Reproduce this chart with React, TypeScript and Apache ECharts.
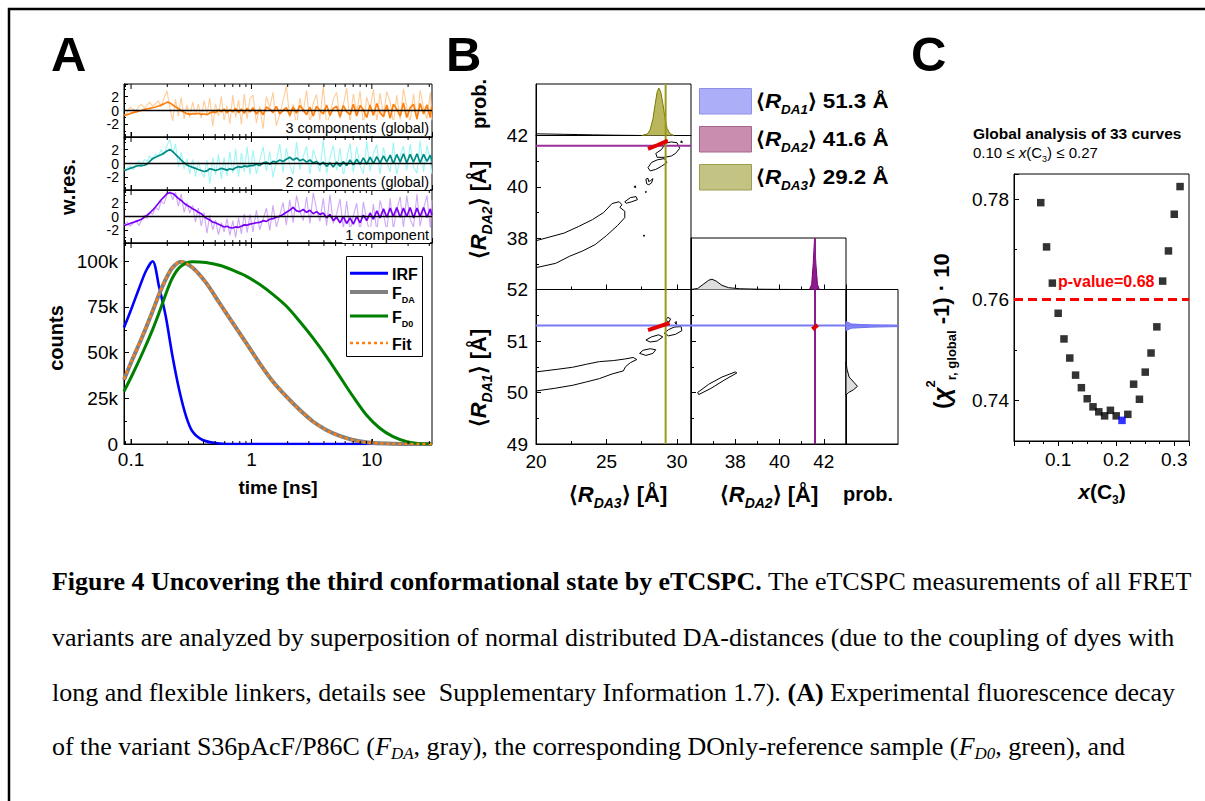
import React, { useEffect, useRef } from 'react';
import * as echarts from 'echarts';

const SANS = '"Liberation Sans", Arial, Helvetica, sans-serif';
const SERIF = '"Liberation Serif", Tinos, "Times New Roman", Times, "Nimbus Roman", serif';

// ---------------- Panel A : weighted residuals ----------------
const resTime = [0.088,0.093,0.098,0.104,0.11,0.116,0.122,0.129,0.136,0.143,
  0.151,0.16,0.169,0.178,0.188,0.199,0.21,0.222,0.234,0.247,
  0.261,0.276,0.291,0.307,0.325,0.343,0.362,0.383,0.404,0.427,
  0.451,0.477,0.503,0.532,0.562,0.593,0.627,0.662,0.7,0.739,
  0.781,0.825,0.872,0.921,0.973,1.03,1.1,1.17,1.25,1.33,
  1.42,1.51,1.61,1.72,1.83,1.95,2.08,2.22,2.37,2.52,
  2.69,2.87,3.06,3.26,3.47,3.7,3.95,4.21,4.49,4.78,
  5.1,5.44,5.8,6.18,6.59,7.02,7.49,7.98,8.51,9.07,
  9.67,10.3,11.0,11.7,12.5,13.3,14.2,15.1,16.1,17.2,
  18.3,19.5,20.8,22.2,23.7,25.2,26.9,28.7,30.6,31.5];

const res3Raw = [-0.7,-0.3,0.5,0.2,-0.1,0.6,0.9,0.3,0.8,1.2,0.6,1.0,1.4,0.5,1.8,2.8,0.4,-1.5,1.6,-0.8,1.9,-1.2,0.8,
  -1.0,1.2,-0.6,0.9,-1.1,1.4,-0.5,1.8,-2.3,1.0,-0.8,2.0,-1.4,0.7,-1.9,2.2,-1.0,1.5,-2.0,2.4,-1.2,1.7,
  2.2,-1.8,0.6,-2.6,2.0,0.4,2.6,-2.2,-0.5,1.4,3.5,-1.0,0.9,-2.4,1.8,-0.3,2.9,-1.9,1.1,2.3,
  -1.3,3.5,-2.0,-0.6,1.6,2.6,-1.2,0.8,3.2,-1.8,2.4,-0.4,2.8,-2.1,1.9,0.2,3.0,-1.6,2.5,-0.8,
  2.7,1.2,-1.9,2.2,-1.3,3.1,0.5,-1.7,2.4,-1.5,2.9,0.3,-1.2,2.6,-1.4];
const res3Smooth = [-0.7,-0.6,-0.45,-0.3,-0.2,-0.1,0.0,0.15,0.25,0.3,0.4,0.5,0.65,0.8,0.95,1.2,1.1,0.8,0.55,0.3,0.0,-0.25,-0.45,
  -0.55,-0.45,-0.5,-0.4,-0.55,-0.5,-0.6,-0.35,-0.2,-0.3,0.1,-0.2,0.2,-0.3,0.1,-0.2,0.3,-0.3,0.2,-0.4,0.3,-0.2,
  0.4,-0.5,0.1,-0.6,0.5,0.2,-0.3,0.6,-0.5,0.0,0.4,-0.7,0.5,-0.4,0.7,0.1,-0.6,0.5,-0.8,0.6,
  0.0,-0.5,0.8,-0.7,0.3,0.6,-0.9,0.7,-0.2,-0.6,0.9,-0.8,0.7,0.1,-1.0,0.8,-0.7,1.0,-0.3,-0.9,
  0.8,-1.1,0.9,0.2,-0.8,1.1,-1.0,0.4,0.9,-1.2,1.0,-0.5,0.8,-1.0,0.6];

const res2Raw = [-1.0,-0.6,-0.3,-0.9,-0.2,0.4,-0.5,0.6,0.3,1.1,0.5,1.4,0.9,2.0,1.2,2.6,3.5,1.5,2.8,-0.5,1.6,-0.8,0.7,
  -1.5,0.6,-1.9,0.3,-1.2,-2.0,0.5,-2.9,0.8,-1.6,1.3,-2.2,0.9,-1.8,1.7,-1.4,2.1,-1.9,1.5,-1.2,2.4,-1.6,
  1.9,-1.5,0.4,2.4,-1.1,1.7,-2.0,0.3,2.8,-1.3,2.2,-0.2,-1.7,3.1,-0.9,1.0,2.5,-1.6,2.0,0.5,
  -1.2,3.4,-1.4,0.8,2.6,-1.0,2.2,-1.8,0.6,2.9,-1.3,2.4,-0.3,-1.5,3.2,-1.1,1.4,2.7,-1.6,2.3,
  0.2,-1.2,3.0,-1.7,1.1,2.5,-1.0,2.8,-0.5,-1.4,3.3,-1.2,2.6,0.4,-1.5];
const res2Smooth = [-1.0,-0.85,-0.7,-0.55,-0.4,-0.3,-0.3,-0.25,-0.1,0.3,0.7,0.9,1.1,1.25,1.5,1.8,2.0,1.7,1.3,0.9,0.5,0.1,-0.2,
  -0.4,-0.55,-0.7,-0.85,-1.0,-1.15,-1.05,-0.75,-0.85,-1.0,-0.85,-0.7,-0.8,-0.95,-0.75,-0.9,-0.6,-0.45,-0.55,-0.35,-0.45,-0.3,
  -0.3,-0.1,-0.3,0.1,0.2,-0.1,0.3,0.2,0.5,0.3,0.6,0.9,0.5,0.8,0.4,0.6,0.2,0.5,0.1,0.3,
  -0.2,0.2,-0.4,0.1,-0.5,0.2,-0.4,0.3,-0.3,0.5,-0.2,0.6,-0.1,0.8,-0.1,0.9,0.0,1.0,0.1,1.1,
  0.2,1.2,0.0,1.3,0.2,1.4,0.1,1.3,0.2,1.4,0.1,1.3,0.3,1.2,0.4];

const res1Raw = [-1.2,-0.8,-1.4,-1.0,-0.5,-1.3,-0.6,0.2,-0.3,0.6,0.3,1.3,0.9,2.2,1.8,3.1,3.6,2.4,3.5,1.5,3.2,0.6,2.0,
  0.5,1.6,-0.8,1.2,-1.4,0.6,-2.4,0.2,-1.9,-0.5,-2.6,-0.9,-2.2,-0.3,-2.7,-0.6,-3.0,-0.2,-2.5,0.4,-2.3,0.3,
  -2.2,0.9,-1.9,-0.4,1.2,-2.0,1.6,-1.5,0.2,2.0,-1.2,2.4,-0.9,3.0,0.8,-0.6,2.8,-1.0,3.4,1.1,
  -0.7,2.6,-1.3,3.1,-1.0,0.4,2.5,-1.8,2.2,-2.1,0.1,1.9,-2.4,2.1,-0.6,-2.3,1.8,-2.2,2.3,0.3,
  -2.0,2.6,-1.8,1.0,2.8,-1.6,3.0,-0.4,-1.5,3.2,-1.4,1.2,3.0,-1.6,2.4];
const res1Smooth = [-1.3,-1.15,-1.0,-0.85,-0.7,-0.55,-0.4,-0.1,0.2,0.5,0.9,1.4,1.9,2.4,2.8,3.3,3.4,3.3,3.0,2.6,2.3,1.9,1.6,
  1.4,1.1,0.9,0.6,0.4,0.0,-0.3,-0.5,-0.8,-0.9,-1.1,-1.3,-1.5,-1.4,-1.6,-1.65,-1.5,-1.55,-1.4,-1.2,-1.25,-1.1,
  -1.0,-0.9,-0.85,-0.6,-0.7,-0.4,-0.3,-0.1,0.05,0.3,0.6,0.9,1.3,0.8,0.7,1.0,0.6,0.9,0.4,0.7,
  0.3,0.5,-0.2,0.3,-0.6,-0.1,-0.9,0.0,-1.0,-0.2,-1.1,0.0,-0.9,0.2,-0.6,0.5,-0.4,0.8,-0.2,1.1,
  -0.1,1.2,0.0,1.3,-0.1,1.2,0.0,1.3,-0.2,1.2,0.0,1.3,-0.1,1.1,0.2];

const resLabels = ['3 components (global)', '2 components (global)', '1 component'];
const logMinorTicks = [0.09,0.2,0.3,0.4,0.5,0.6,0.7,0.8,0.9,2,3,4,5,6,7,8,9,20,30];
const logMajorTicks = [0.1, 1, 10];

// ---------------- Panel A : decays (counts in thousands) ----------------
const irfTime = [0.0874,0.1,0.116,0.133,0.151,0.171,0.194,0.221,0.251,0.287,0.324,0.393,0.54,0.8,2,31.6];
const irfK = [63.7,73.5,84.8,94.7,100,86,70,48,29.7,15,6.8,2.2,0.3,0,0,0];
const decayTime = [0.0874,0.1025,0.1245,0.151,0.171,0.194,0.221,0.259,0.325,0.419,0.541,0.699,0.903,1.166,1.506,1.946,2.51,3.24,4.19,5.41,6.98,9.02,11.66,15.0,19.5,25.1,31.6];
const fdaK = [35.2,46.2,59.0,72.7,81.9,90.1,96.5,99.8,96.5,88.3,77.3,66.3,55.3,44.3,34.2,26.0,18.7,12.3,7.7,4.4,2.2,0.9,0.4,0.1,0.05,0,0];
const fd0K = [28.8,37.9,49.8,62.6,71.8,81.9,91.0,97.3,99.8,99.3,97.8,95.2,91.9,87.4,81.9,75.5,67.2,58.1,48.0,37.0,26.0,15.9,8.6,4.0,1.3,0.2,0];
const fitK = [35.6,46.5,59.2,72.9,82.1,90.3,96.6,99.9,96.4,88.2,77.2,66.2,55.2,44.2,34.1,25.9,18.6,12.2,7.6,4.3,2.1,0.9,0.4,0.1,0.05,0,0];

// ---------------- Panel B ----------------
const meanR1 = 51.3, meanR2 = 41.6, meanR3 = 29.2;
const contR2R3 = [
  [[20,37.9],[21,38.05],[22,38.2],[23,38.45],[24,38.72],[24.8,39.0],[25.4,39.35],[25.9,39.42],[26.1,39.3],[25.95,39.2],[26.3,39.05],[26.3,38.8],[25.8,38.5],[25.0,38.1],[24.2,37.75],[23.3,37.5],[22.4,37.3],[21.4,37.02],[20,36.85]],
  [[26.3,39.42],[26.7,39.58],[27.1,39.62],[27.2,39.5],[26.8,39.42],[26.4,39.36],[26.3,39.42]],
  [[26.95,40.0],[27.05,40.04],[27.08,39.97],[26.95,40.0]],
  [[27.6,38.1],[27.7,38.12],[27.68,38.07],[27.6,38.1]],
  [[27.75,39.8],[27.82,39.83],[27.8,39.77],[27.75,39.8]],
  [[27.8,40.3],[27.85,40.12],[28.0,40.08],[28.2,40.15],[28.3,40.32],[28.15,40.25],[28.0,40.2],[27.95,40.33],[27.8,40.3]],
  [[27.95,40.75],[28.2,40.95],[28.6,41.05],[29.1,41.1],[29.3,40.95],[28.9,40.8],[28.5,40.68],[28.1,40.62],[27.95,40.75]],
  [[28.5,41.3],[28.9,41.45],[29.2,41.7],[29.6,41.75],[30.0,41.72],[30.2,41.5],[29.9,41.3],[29.6,41.2],[29.1,41.15],[28.6,41.15],[28.5,41.3]],
  [[30.25,41.75],[30.35,41.79],[30.38,41.72],[30.25,41.75]]
];
const redR2R3 = [[27.95,41.48],[28.6,41.62],[29.36,41.8]];
const contR1R3 = [
  [[20,50.4],[21.5,50.45],[22.6,50.49],[23.6,50.55],[24.5,50.6],[25.5,50.62],[26.3,50.65],[26.9,50.68],[27.15,50.64],[26.7,50.58],[26.35,50.5],[26.2,50.42],[25.4,50.36],[24.5,50.27],[23.5,50.2],[22.6,50.14],[21.3,50.08],[20,50.03]],
  [[27.35,50.76],[27.6,50.82],[28.1,50.85],[28.5,50.83],[28.3,50.76],[27.8,50.72],[27.35,50.76]],
  [[27.8,51.02],[28.2,51.08],[28.7,51.12],[29.0,51.08],[28.6,51.0],[28.1,50.98],[27.8,51.02]],
  [[29.1,51.15],[29.4,51.22],[29.8,51.27],[30.3,51.28],[30.35,51.2],[29.9,51.13],[29.4,51.1],[29.1,51.15]],
  [[29.2,51.4],[29.35,51.46],[29.55,51.43],[29.45,51.37],[29.2,51.4]],
  [[29.85,51.35],[29.95,51.38],[29.97,51.32],[29.85,51.35]]
];
const redR1R3 = [[27.95,51.21],[28.7,51.28],[29.48,51.35]];
const contR1R2 = [
  [[36.3,50.0],[36.8,50.16],[37.4,50.3],[38.0,50.4],[38.07,50.38],[37.5,50.24],[36.9,50.08],[36.35,49.96],[36.3,50.0]]
];
const redR1R2 = [[41.48,51.23],[41.6,51.27],[41.72,51.31]];
const hist3 = [[27.5,0],[27.9,0.03],[28.1,0.12],[28.3,0.35],[28.45,0.65],[28.6,0.92],[28.72,1.0],[28.85,0.92],[29.0,0.68],[29.15,0.38],[29.3,0.15],[29.5,0.04],[29.8,0]];
const hist3Tail = [[20,0.035],[21,0.03],[22,0.025],[23,0.02],[24,0.014],[25,0.009],[26,0.005],[27,0.002],[27.5,0]];
const hist2Gray = [[36.0,0.0],[36.3,0.02],[36.55,0.1],[36.8,0.18],[36.95,0.2],[37.15,0.16],[37.4,0.08],[37.7,0.035],[38.2,0.015],[39,0.006],[40,0.002],[41,0]];
const hist2Peak = [[41.35,0],[41.45,0.1],[41.52,0.5],[41.58,1.0],[41.64,0.5],[41.71,0.1],[41.8,0]];
const hist1Gray = [[0,49.95],[0.05,50.0],[0.14,50.05],[0.22,50.12],[0.15,50.2],[0.06,50.3],[0.02,50.45],[0,50.6]];
const hist1Peak = [[0,51.2],[0.1,51.25],[0.5,51.27],[1.0,51.28],[1.0,51.3],[0.5,51.31],[0.1,51.33],[0,51.38]];

// ---------------- Panel C ----------------
const xC3 = [0.07,0.08,0.09,0.10,0.11,0.12,0.13,0.14,0.15,0.16,0.17,0.18,0.19,0.20,0.22,0.23,0.24,0.25,0.26,0.27,0.28,0.29,0.30,0.31];
const chiC3 = [0.7793,0.7705,0.7633,0.7573,0.7522,0.7484,0.7450,0.7425,0.7403,0.7387,0.7377,0.7369,0.7380,0.7369,0.7372,0.7432,0.7402,0.7456,0.7494,0.7546,0.7637,0.7697,0.7770,0.7825];
const bestX = [0.21];
const bestChi = [0.7360];
const pValueLevel = 0.7615;

// ---------------- Caption ----------------
const captionLines: [string, string][][] = [
  [['b', 'Figure 4 Uncovering the third conformational state by eTCSPC.'], ['n', ' The eTCSPC measurements of all FRET']],
  [['n', 'variants are analyzed by superposition of normal distributed DA-distances (due to the coupling of dyes with']],
  [['n', 'long and flexible linkers, details see  Supplementary Information 1.7). '], ['b', '(A)'], ['n', ' Experimental fluorescence decay']],
  [['n', 'of the variant S36pAcF/P86C ('], ['i', 'F'], ['is', 'DA'], ['n', ', gray), the corresponding DOnly-reference sample ('], ['i', 'F'], ['is', 'D0'], ['n', ', green), and']]
];
const captionEnds = [1192, 1175, 1175, 1125];

const CAP = 24.5;
const capRich: any = {
  n: { fontFamily: SERIF, fontSize: CAP, lineHeight: 30, fill: '#000' },
  b: { fontFamily: SERIF, fontSize: CAP, fontWeight: 'bold', lineHeight: 30, fill: '#000' },
  i: { fontFamily: SERIF, fontSize: CAP, fontStyle: 'italic', lineHeight: 30, fill: '#000' },
  is: { fontFamily: SERIF, fontSize: 16, fontStyle: 'italic', verticalAlign: 'bottom', fill: '#000' }
};
const capFont: any = {
  n: `${CAP}px ${SERIF}`, b: `bold ${CAP}px ${SERIF}`, i: `italic ${CAP}px ${SERIF}`, is: `italic 16px ${SERIF}`
};

function measureParts(parts: [string, string][]) {
  const ctx = document.createElement('canvas').getContext('2d') as CanvasRenderingContext2D;
  let w = 0;
  parts.forEach(([k, t]) => { ctx.font = capFont[k]; w += ctx.measureText(t).width; });
  return w;
}

function ax(o: any) {
  return {
    axisLine: { show: true, onZero: false, lineStyle: { color: '#000', width: 1 } },
    axisTick: { show: true, inside: true, length: 5, lineStyle: { color: '#000' }, ...(o.axisTick || {}) },
    minorTick: { show: false, ...(o.minorTick || {}) },
    splitLine: { show: false },
    axisLabel: { show: false, color: '#000', fontFamily: SANS, fontSize: 19, ...(o.axisLabel || {}) },
    ...Object.fromEntries(Object.entries(o).filter(([k]) => !['axisTick', 'axisLabel', 'minorTick'].includes(k)))
  };
}

const logFmt = (v: number) => String(Math.round(v * 1000) / 1000);

function buildOption(): any {
  const grids = [
    { left: 124, top: 84, width: 308, height: 53 },
    { left: 124, top: 137, width: 308, height: 53 },
    { left: 124, top: 190, width: 308, height: 53 },
    { left: 124, top: 243, width: 308, height: 201 },
    { left: 536, top: 84, width: 155, height: 51.5 },
    { left: 536, top: 135.5, width: 155, height: 154 },
    { left: 536, top: 289.5, width: 155, height: 154.5 },
    { left: 691, top: 289.5, width: 155, height: 154.5 },
    { left: 691, top: 238, width: 155, height: 51.5 },
    { left: 846, top: 289.5, width: 52, height: 154.5 },
    { left: 1014, top: 174, width: 175, height: 267 }
  ].map(g => ({ ...g, show: true, borderColor: '#000', borderWidth: 1, backgroundColor: 'transparent', containLabel: false }));

  const resX = (i: number) => ax({ type: 'log', logBase: 10, gridIndex: i, min: 0.0874, max: 31.6 });
  const resY = (i: number) => ax({ type: 'value', gridIndex: i, min: -3.8, max: 3.8, splitNumber: 4,
    axisLabel: { show: true, fontSize: 14, lineHeight: 12, margin: 5, showMinLabel: false, showMaxLabel: false },
    axisTick: { length: 4 }, minorTick: { show: true, splitNumber: 2, length: 2, lineStyle: { color: '#000' } } });

  const xAxis = [
    resX(0), resX(1), resX(2),
    ax({ type: 'log', logBase: 10, gridIndex: 3, min: 0.0874, max: 31.6,
      axisLabel: { show: true, margin: 6, formatter: logFmt, showMinLabel: false, showMaxLabel: false },
      name: 'time [ns]', nameLocation: 'middle', nameGap: 34,
      nameTextStyle: { fontFamily: SANS, fontSize: 19, fontWeight: 'bold', color: '#000' } }),
    ax({ type: 'value', gridIndex: 4, min: 20, max: 31, interval: 5, axisTick: { show: false } }),
    ax({ type: 'value', gridIndex: 5, min: 20, max: 31, interval: 5, minorTick: { show: true, splitNumber: 2, length: 3, lineStyle: { color: '#000' } } }),
    ax({ type: 'value', gridIndex: 6, min: 20, max: 31, interval: 5,
      axisLabel: { show: true, margin: 8, showMaxLabel: false },
      minorTick: { show: true, splitNumber: 2, length: 3, lineStyle: { color: '#000' } } }),
    ax({ type: 'value', gridIndex: 7, min: 36, max: 43, interval: 2,
      axisLabel: { show: true, margin: 8, showMinLabel: false, showMaxLabel: false },
      minorTick: { show: true, splitNumber: 2, length: 3, lineStyle: { color: '#000' } } }),
    ax({ type: 'value', gridIndex: 8, min: 36, max: 43, interval: 2, minorTick: { show: true, splitNumber: 2, length: 3, lineStyle: { color: '#000' } } }),
    ax({ type: 'value', gridIndex: 9, min: 0, max: 1, axisTick: { show: false } }),
    ax({ type: 'value', gridIndex: 10, min: 0.0239, max: 0.3254, splitNumber: 3,
      axisTick: { inside: false, length: 5 },
      axisLabel: { show: true, margin: 9, showMinLabel: false, showMaxLabel: false, formatter: (v: number) => v.toFixed(1) },
      minorTick: { show: true, splitNumber: 4, length: 3, lineStyle: { color: '#000' } } })
  ];

  const yAxis = [
    resY(0), resY(1), resY(2),
    ax({ type: 'value', gridIndex: 3, min: 0, max: 110, interval: 25,
      axisLabel: { show: true, margin: 6, showMaxLabel: false, formatter: (v: number) => (v === 0 ? '0' : v + 'k') },
      minorTick: { show: true, splitNumber: 2, length: 3, lineStyle: { color: '#000' } } }),
    ax({ type: 'value', gridIndex: 4, min: 0, max: 1.085, axisTick: { show: false } }),
    ax({ type: 'value', gridIndex: 5, min: 36, max: 42, interval: 2,
      axisLabel: { show: true, margin: 8, showMinLabel: false },
      minorTick: { show: true, splitNumber: 2, length: 3, lineStyle: { color: '#000' } } }),
    ax({ type: 'value', gridIndex: 6, min: 49, max: 52, interval: 1,
      axisLabel: { show: true, margin: 8 },
      minorTick: { show: true, splitNumber: 2, length: 3, lineStyle: { color: '#000' } } }),
    ax({ type: 'value', gridIndex: 7, min: 49, max: 52, interval: 1, minorTick: { show: true, splitNumber: 2, length: 3, lineStyle: { color: '#000' } } }),
    ax({ type: 'value', gridIndex: 8, min: 0, max: 1, axisTick: { show: false } }),
    ax({ type: 'value', gridIndex: 9, min: 49, max: 52, interval: 1, axisTick: { show: false } }),
    ax({ type: 'value', gridIndex: 10, min: 0.7319, max: 0.785, splitNumber: 3,
      axisLabel: { show: true, margin: 5, showMinLabel: false, showMaxLabel: false, formatter: (v: number) => v.toFixed(2) },
      minorTick: { show: true, splitNumber: 2, length: 3, lineStyle: { color: '#000' } } })
  ];

  const line = (idx: number, data: any[], color: string, width: number, extra: any = {}) => ({
    type: 'line', xAxisIndex: idx, yAxisIndex: idx, data, showSymbol: false, symbol: 'none', silent: true,
    lineStyle: { color, width }, ...extra
  });
  const pairs = (xs: number[], ys: number[]) => xs.map((x, i) => [x, ys[i]]);

  const series: any[] = [];
  const resSets = [
    [res3Raw, res3Smooth, '#ffcc99', '#ff7f0e'],
    [res2Raw, res2Smooth, '#9ff5f5', '#008b84'],
    [res1Raw, res1Smooth, '#cfa8f5', '#7a00f5']
  ] as any[];
  resSets.forEach(([raw, sm, lc, dc], i) => {
    series.push(line(i, pairs(resTime, raw), lc, 1.1));
    series.push(line(i, pairs(resTime, sm), dc, 1.7, {
      markLine: { silent: true, symbol: 'none', label: { show: false }, data: [{ yAxis: 0 }],
        lineStyle: { color: '#000', width: 1.3, type: 'solid' } }
    }));
  });

  // log-axis minor ticks (top & bottom) for panel A grids
  const logTickSeries = (idx: number, yLo: number, yHi: number) => ({
    type: 'custom', xAxisIndex: idx, yAxisIndex: idx, silent: true, data: [[1, 0]], z: 5,
    renderItem: (_p: any, api: any) => {
      const children: any[] = [];
      const add = (t: number, len: number) => {
        const top = api.coord([t, yHi]);
        const bot = api.coord([t, yLo]);
        children.push({ type: 'line', shape: { x1: top[0], y1: top[1], x2: top[0], y2: top[1] + len }, style: { stroke: '#000', lineWidth: 1 } });
        children.push({ type: 'line', shape: { x1: bot[0], y1: bot[1], x2: bot[0], y2: bot[1] - len }, style: { stroke: '#000', lineWidth: 1 } });
      };
      logMinorTicks.forEach(t => add(t, 3));
      logMajorTicks.forEach(t => add(t, 5));
      return { type: 'group', children };
    }
  });
  series.push(logTickSeries(0, -3.8, 3.8));
  series.push(logTickSeries(1, -3.8, 3.8));
  series.push(logTickSeries(2, -3.8, 3.8));
  series.push(logTickSeries(3, 0, 110));

  series.push(line(3, pairs(irfTime, irfK), '#0000ff', 2.6, { smooth: 0.3 }));
  series.push(line(3, pairs(decayTime, fdaK), '#808080', 4, { smooth: 0.3 }));
  series.push(line(3, pairs(decayTime, fd0K), '#008000', 3, { smooth: 0.3 }));
  series.push(line(3, pairs(decayTime, fitK), '#ff7f0e', 2.4, { smooth: 0.3, lineStyle: { color: '#ff7f0e', width: 2.4, type: [3, 3] } }));

  // Panel B
  series.push(line(4, hist3Tail, '#000', 1));
  series.push(line(4, hist3, '#7a7a00', 1, { areaStyle: { color: '#b9b65c', opacity: 1 } }));
  series.push(line(4, [[meanR3, 0], [meanR3, 1.085]], '#9a9a1a', 2));

  contR2R3.forEach(c => series.push(line(5, c, '#000', 1)));
  series.push(line(5, [[20, meanR2], [31, meanR2]], '#9b2f9b', 2));
  series.push(line(5, [[meanR3, 36], [meanR3, 42]], '#9a9a1a', 2));
  series.push(line(5, redR2R3, '#e00000', 4));

  contR1R3.forEach(c => series.push(line(6, c, '#000', 1)));
  series.push(line(6, [[20, meanR1], [31, meanR1]], '#7a7af5', 2));
  series.push(line(6, [[meanR3, 49], [meanR3, 52]], '#9a9a1a', 2));
  series.push(line(6, redR1R3, '#e00000', 4));

  contR1R2.forEach(c => series.push(line(7, c, '#000', 1)));
  series.push(line(7, [[36, meanR1], [43, meanR1]], '#7a7af5', 2));
  series.push(line(7, [[meanR2, 49], [meanR2, 52]], '#8b1c8b', 2));
  series.push(line(7, redR1R2, '#e00000', 4));

  series.push(line(8, hist2Gray, '#000', 1, { areaStyle: { color: '#dedede', opacity: 1 } }));
  series.push(line(8, hist2Peak, '#7a007a', 1, { areaStyle: { color: '#8b1c8b', opacity: 1 } }));
  series.push(line(8, [[meanR2, 0], [meanR2, 1]], '#8b1c8b', 2));

  series.push({
    type: 'custom', xAxisIndex: 9, yAxisIndex: 9, silent: true, data: [[0, 50]],
    renderItem: (_p: any, api: any) => ({
      type: 'group',
      children: [
        { type: 'polygon', shape: { points: hist1Gray.map(([p, r]) => api.coord([p, r])) }, style: { fill: '#dedede', stroke: '#000', lineWidth: 1 } },
        { type: 'polygon', shape: { points: hist1Peak.map(([p, r]) => api.coord([p, r])) }, style: { fill: '#8c8cf5', stroke: '#6a6af0', lineWidth: 1 } }
      ]
    })
  });
  series.push(line(9, [[0, meanR1], [1, meanR1]], '#7a7af5', 2));

  // Panel C
  series.push({
    type: 'scatter', xAxisIndex: 10, yAxisIndex: 10, symbol: 'rect', symbolSize: 7.5, silent: true,
    itemStyle: { color: '#000' }, data: pairs(xC3, chiC3),
    markLine: { silent: true, symbol: 'none', label: { show: false }, data: [{ yAxis: pValueLevel }],
      lineStyle: { color: '#ff0000', width: 3, type: [9, 5] } }
  });
  series.push({
    type: 'scatter', xAxisIndex: 10, yAxisIndex: 10, symbol: 'rect', symbolSize: 7.5, silent: true,
    itemStyle: { color: '#0000ff' }, data: pairs(bestX, bestChi)
  });

  // ---------- graphics ----------
  const g: any[] = [];
  const txt = (x: number, y: number, text: string, font: string, extra: any = {}, styleExtra: any = {}) => ({
    type: 'text', x, y, silent: true, ...extra,
    style: { text, font, fill: '#000', align: 'left', verticalAlign: 'middle', ...styleExtra }
  });
  g.push({ type: 'rect', silent: true, shape: { x: 9, y: 9, width: 1260, height: 860 }, style: { fill: 'none', stroke: '#000', lineWidth: 2.5 } });
  g.push(txt(51, 54, 'A', `bold 49px ${SANS}`));
  g.push(txt(446, 54, 'B', `bold 49px ${SANS}`));
  g.push(txt(911, 54, 'C', `bold 49px ${SANS}`));

  g.push(txt(68, 187, 'w.res.', `bold 20px ${SANS}`, { rotation: Math.PI / 2 }, { align: 'center' }));
  g.push(txt(56, 338, 'counts', `bold 20px ${SANS}`, { rotation: Math.PI / 2 }, { align: 'center' }));

  const resLabelY = [128, 182, 235];
  resLabels.forEach((t, i) => g.push(txt(430, resLabelY[i], t, `14.5px ${SANS}`, { z: 10 },
    { align: 'right', backgroundColor: '#fff', padding: [1, 1, 0, 3] })));

  // decay legend
  g.push({ type: 'rect', silent: true, z: 10, shape: { x: 346.5, y: 256.5, width: 76, height: 100 }, style: { fill: '#fff', stroke: '#000', lineWidth: 1 } });
  const legItems = [
    { y: 273.3, color: '#0000ff', w: 3, dash: null, label: '{m|IRF}' },
    { y: 292, color: '#808080', w: 4, dash: null, label: '{m|F}{s|DA}' },
    { y: 316, color: '#008000', w: 3, dash: null, label: '{m|F}{s|D0}' },
    { y: 343, color: '#ff7f0e', w: 2.6, dash: [3, 3], label: '{m|Fit}' }
  ];
  legItems.forEach(it => {
    g.push({ type: 'line', silent: true, z: 11, shape: { x1: 350, y1: it.y, x2: 388, y2: it.y },
      style: { stroke: it.color, lineWidth: it.w, lineDash: it.dash || undefined } });
    g.push({ type: 'text', silent: true, z: 11, x: 392, y: it.y + 1,
      style: { text: it.label, fill: '#000', align: 'left', verticalAlign: 'middle',
        rich: { m: { fontFamily: SANS, fontSize: 16, fontWeight: 'bold', lineHeight: 22 },
          s: { fontFamily: SANS, fontSize: 9, fontWeight: 'bold', verticalAlign: 'bottom' } } } });
  });

  // Panel B labels
  const rRich = (fs: number, sub: number) => ({
    a: { fontFamily: SANS, fontSize: fs, fontWeight: 'bold', lineHeight: fs + 10 },
    r: { fontFamily: SANS, fontSize: fs, fontWeight: 'bold', fontStyle: 'italic', lineHeight: fs + 10 },
    s: { fontFamily: SANS, fontSize: sub, fontWeight: 'bold', fontStyle: 'italic', verticalAlign: 'bottom' }
  });
  const rLabel = (x: number, y: number, sub: string, tail: string, rot: boolean, fs = 22, align = 'center', extra: any = {}) => ({
    type: 'text', silent: true, x, y, rotation: rot ? Math.PI / 2 : 0, ...extra,
    style: { text: `{a|⟨}{r|R}{s|${sub}}{a|⟩${tail}}`, fill: '#000', align, verticalAlign: 'middle', rich: rRich(fs, Math.round(fs * 0.62)) }
  });
  g.push(txt(479, 104, 'prob.', `bold 20px ${SANS}`, { rotation: Math.PI / 2 }, { align: 'center' }));
  g.push(rLabel(478, 210, 'DA2', ' [Å]', true));
  g.push(rLabel(478, 378, 'DA1', ' [Å]', true));
  g.push(rLabel(618, 494, 'DA3', ' [Å]', false));
  g.push(rLabel(769, 494, 'DA2', ' [Å]', false));
  g.push(txt(843, 494, 'prob.', `bold 20px ${SANS}`));

  const bLeg = [
    { y: 88.5, fill: '#acaff7', stroke: '#8d90e6', sub: 'DA1', v: meanR1 },
    { y: 126.5, fill: '#c98db0', stroke: '#a8648c', sub: 'DA2', v: meanR2 },
    { y: 164.5, fill: '#c3c384', stroke: '#9c9c52', sub: 'DA3', v: meanR3 }
  ];
  bLeg.forEach(b => {
    g.push({ type: 'rect', silent: true, shape: { x: 699.5, y: b.y, width: 52, height: 25.5 }, style: { fill: b.fill, stroke: b.stroke, lineWidth: 1 } });
    g.push(rLabel(756, b.y + 12, b.sub, ` ${b.v.toFixed(1)} Å`, false, 20, 'left', { scaleX: 1.12 }));
  });

  // Panel C labels
  g.push(txt(973, 133.5, 'Global analysis of 33 curves', `bold 15.5px ${SANS}`));
  g.push({ type: 'text', silent: true, x: 973, y: 152,
    style: { text: '{n|0.10 ≤ }{i|x}{n|(C}{s|3}{n|) ≤ 0.27}', fill: '#000', align: 'left', verticalAlign: 'middle',
      rich: { n: { fontFamily: SANS, fontSize: 15, lineHeight: 22 }, i: { fontFamily: SANS, fontSize: 15, fontStyle: 'italic', lineHeight: 22 },
        s: { fontFamily: SANS, fontSize: 9, verticalAlign: 'bottom' } } } });
  g.push(txt(1058, 281.5, 'p-value=0.68', `bold 16px ${SANS}`, { z: 10 }, { fill: '#ff0000' }));
  g.push({ type: 'text', silent: true, x: 941, y: 331, rotation: Math.PI / 2,
    style: { text: '{a|(}{c|χ}{p|2}{s|r, global}{a| -1) · 10}', fill: '#000', align: 'center', verticalAlign: 'middle',
      rich: { a: { fontFamily: SANS, fontSize: 22, fontWeight: 'bold', lineHeight: 34 },
        c: { fontFamily: SANS, fontSize: 24, fontWeight: 'bold', fontStyle: 'italic', lineHeight: 34 },
        p: { fontFamily: SANS, fontSize: 13, fontWeight: 'bold', verticalAlign: 'top' },
        s: { fontFamily: SANS, fontSize: 13, fontWeight: 'bold', verticalAlign: 'bottom' } } } });
  g.push({ type: 'text', silent: true, x: 1102, y: 491,
    style: { text: '{i|x}{a|(C}{s|3}{a|)}', fill: '#000', align: 'center', verticalAlign: 'middle',
      rich: { a: { fontFamily: SANS, fontSize: 21, fontWeight: 'bold', lineHeight: 30 },
        i: { fontFamily: SANS, fontSize: 21, fontWeight: 'bold', fontStyle: 'italic', lineHeight: 30 },
        s: { fontFamily: SANS, fontSize: 12, fontWeight: 'bold', verticalAlign: 'bottom' } } } });

  // caption
  const capX = 52;
  const capY = [582, 637, 692, 747];
  captionLines.forEach((parts, i) => {
    const natural = measureParts(parts);
    const sx = natural > 0 ? (captionEnds[i] - capX) / natural : 1;
    g.push({ type: 'text', silent: true, x: capX, y: capY[i], scaleX: sx, scaleY: 1,
      style: { text: parts.map(([k, t]) => `{${k}|${t}}`).join(''), fill: '#000', align: 'left', verticalAlign: 'middle', rich: capRich } });
  });

  return {
    animation: false,
    backgroundColor: '#fff',
    textStyle: { fontFamily: SANS },
    grid: grids,
    xAxis,
    yAxis,
    series,
    graphic: { elements: g }
  };
}

export default function App() {
  const ref = useRef<HTMLDivElement>(null);
  useEffect(() => {
    if (!ref.current) return;
    const chart = echarts.init(ref.current, null, { renderer: 'svg' });
    chart.setOption(buildOption());
    return () => chart.dispose();
  }, []);
  return <div ref={ref} style={{ position: 'fixed', left: 0, top: 0, width: 1205, height: 801, background: '#fff' }} />;
}
